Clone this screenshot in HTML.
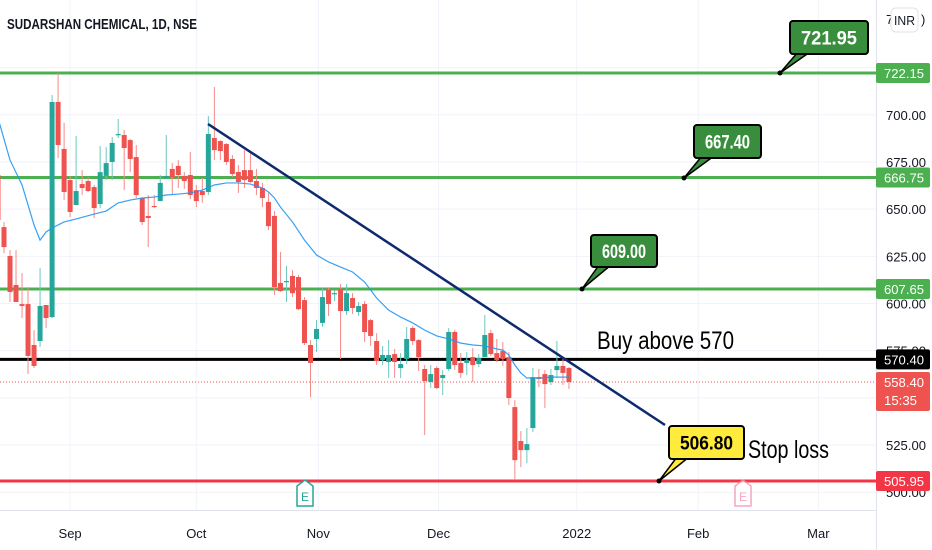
<!DOCTYPE html>
<html><head><meta charset="utf-8"><style>
html,body{margin:0;padding:0;background:#fff;}
svg{display:block;font-family:"Liberation Sans",sans-serif;}
</style></head><body>
<svg id="chart" width="932" height="550" viewBox="0 0 932 550" xmlns="http://www.w3.org/2000/svg">
<rect width="932" height="550" fill="#fff"/>
<g id="grid"></g>
<g id="hlines"></g>
<g id="candles"></g>
<g id="ma"></g>
<g id="drawings"></g>
<g id="axis"></g>
</svg>
<script>
const opens=[668.1,640.5,625.2,609.8,599.7,599.7,578.0,580.1,599.2,592.8,706.8,681.9,665.4,652.2,663.3,664.9,661.7,652.7,667.6,675.0,689.3,689.3,686.6,677.6,655.9,646.4,651.7,654.3,666.5,671.3,672.9,667.6,668.1,660.1,659.6,659.1,687.7,686.1,684.5,676.6,669.7,670.7,670.7,664.9,661.2,653.8,646.4,610.9,611.4,614.6,614.0,601.8,578.0,581.2,589.7,607.1,605.0,607.7,596.0,602.9,595.5,599.7,591.2,580.1,570.0,569.0,573.2,565.8,570.6,587.0,580.6,565.3,558.4,565.8,560.5,565.3,584.9,568.5,568.5,571.6,567.9,571.6,584.3,573.7,574.8,571.6,545.1,527.1,522.3,534.0,561.0,562.6,558.4,564.7,566.9,565.8];
const highs=[681.3,643.2,628.3,628.3,616.1,608.7,585.9,618.8,599.2,710.5,722.1,695.7,667.6,688.8,670.7,667.0,662.8,683.5,682.9,688.2,697.8,692.0,687.2,684.0,655.9,657.5,657.5,668.1,689.3,674.4,676.0,669.7,680.3,662.8,666.5,699.4,714.7,686.6,685.1,678.7,673.4,681.3,679.7,671.3,663.9,658.6,649.0,627.3,619.9,617.7,615.1,603.4,580.6,591.2,608.2,608.2,607.1,610.3,610.3,605.5,600.8,601.3,591.8,584.3,577.5,580.6,575.9,573.8,587.5,588.1,581.2,567.4,567.4,566.9,564.7,587.0,586.0,573.8,574.3,576.4,573.2,593.9,586.0,581.2,579.6,574.3,548.8,532.4,534.0,565.8,565.3,564.7,565.3,580.1,571.6,566.4];
const lows=[631.0,626.7,600.8,600.8,592.3,562.6,565.8,577.0,587.0,592.3,677.1,654.8,645.8,652.2,657.5,659.1,645.3,650.6,665.4,665.4,687.7,660.1,669.6,655.9,641.6,629.9,650.6,654.3,666.5,657.5,661.2,660.7,655.4,651.1,653.3,657.5,676.0,676.0,673.4,667.0,658.6,661.2,663.9,657.5,651.1,638.9,604.5,606.1,600.8,603.4,596.5,578.0,550.4,574.3,587.5,593.4,601.3,570.6,593.9,594.4,593.4,579.6,577.5,567.4,567.4,560.5,560.5,560.5,567.9,578.0,564.2,530.3,555.2,554.7,551.5,564.2,564.7,560.5,562.1,558.4,566.3,571.6,572.2,568.9,566.9,546.2,506.4,513.3,515.4,531.9,555.7,544.6,556.8,561.0,556.8,554.7];
const closes=[644.2,629.9,606.1,600.8,598.7,572.2,566.9,598.7,592.3,706.8,684.0,659.1,648.5,659.6,661.2,659.6,650.6,669.6,674.4,685.1,689.8,682.4,676.6,657.5,643.2,645.3,651.1,663.9,667.6,667.0,668.1,664.9,657.5,654.3,657.5,689.8,681.3,680.8,675.0,668.6,664.4,665.4,664.4,661.2,655.9,641.0,608.7,606.6,611.9,605.5,597.0,579.0,568.5,586.5,603.4,599.7,605.5,596.0,605.5,597.6,598.7,584.9,582.8,569.5,572.7,572.7,569.0,567.9,581.2,580.1,571.6,558.9,562.6,555.2,562.1,584.9,567.4,563.2,570.0,567.4,571.1,583.3,573.2,570.0,570.6,549.9,517.0,522.3,525.5,561.0,560.0,557.3,562.1,566.9,563.2,558.4];
const maIdx=[0,2,4,6,7,8,9,11,13,16,18,20,22,24,26,28,30,32,34,36,38,40,42,44,45,46,47,49,51,53,55,57,59,61,63,65,67,69,71,73,75,77,79,81,83,84,85,86,87,88,90,92,95];
const maVal=[698.3,676.0,662.8,641.6,633.6,637.9,640.0,643.2,644.8,647.4,649.0,653.3,654.8,655.9,656.4,657.5,658.0,658.6,660.1,662.8,663.9,663.9,663.3,661.2,659.1,655.9,651.1,643.2,633.6,625.7,622.0,619.3,616.7,611.4,602.9,596.5,592.8,589.7,585.9,582.8,581.2,579.0,578.0,577.5,575.9,575.3,572.7,567.4,563.2,560.5,560.5,561.0,561.0];
const levelPrices=[722.15,666.75,607.65,570.40,505.95];
const levelColors=['#4caf50','#4caf50','#4caf50','#000000','#f23645'];
const tickPrices=[700,675,650,625,600,525];
const monthLabels=['Sep','Oct','Nov','Dec','2022','Feb','Mar'];
const monthIdx=[12,33,53.3,73.3,96.3,116.5,136.5];
const lastPrice=558.40;

const NS='http://www.w3.org/2000/svg';
const Y=p=>73+(722.15-p)*1.887;
const X=i=>-2.01+6.01*i;
function mk(tag,attrs,parent,text){const e=document.createElementNS(NS,tag);for(const k in attrs)e.setAttribute(k,attrs[k]);if(text!==undefined)e.textContent=text;parent.appendChild(e);return e;}

const grid=document.getElementById('grid');
tickPrices.concat([575,550,500,725]).forEach(p=>{const l=mk('line',{x1:0,x2:876,y1:Y(p),y2:Y(p),stroke:'#f0f3fa','stroke-width':1},grid);

});
monthIdx.forEach(i=>{const l=mk('line',{x1:X(i),x2:X(i),y1:0,y2:510,stroke:'#f0f3fa','stroke-width':1},grid);

});

const hl=document.getElementById('hlines');
const dl=mk('line',{x1:0,x2:876,y1:Y(lastPrice),y2:Y(lastPrice),stroke:'#ef5350','stroke-width':1,'stroke-dasharray':'1 2'},hl);


levelPrices.forEach((p,k)=>{const l=mk('line',{x1:0,x2:876,y1:Y(p),y2:Y(p),stroke:levelColors[k],'stroke-width':3},hl);

});

const cg=document.getElementById('candles');
for(let i=0;i<opens.length;i++){
  const up=closes[i]>=opens[i];
  const g=mk('g',{},cg);
  
  
  const x=X(i);
  mk('line',{x1:x,x2:x,y1:Y(highs[i]),y2:Y(lows[i]),stroke:up?'#6cc7bd':'#f58a88','stroke-width':1},g);
  const t=Y(Math.max(opens[i],closes[i])),b=Y(Math.min(opens[i],closes[i]));
  mk('rect',{x:x-2.5,y:t,width:5,height:Math.max(1.2,b-t),fill:up?'#26a69a':'#ef5350'},g);
}

const ma=document.getElementById('ma');
const mp=mk('polyline',{points:maIdx.map((i,k)=>X(i)+','+Y(maVal[k])).join(' '),fill:'none',stroke:'#2196f3','stroke-width':1.2,'stroke-opacity':0.9},ma);



const dr=document.getElementById('drawings');
const tl=mk('line',{x1:208,y1:124,x2:665,y2:425,stroke:'#0d2a6e','stroke-width':2.5},dr);


function callout(name,bx,by,bw,bh,dx,dy,fill,tc,txt){
  const g=mk('g',{},dr);
  
  
  mk('path',{d:`M${bx+8},${by+bh-2} L${dx},${dy} L${bx+20},${by+bh-2} Z`,fill:fill,stroke:'#000','stroke-width':1.5,'stroke-linejoin':'round'},g);
  mk('rect',{x:bx,y:by,width:bw,height:bh,rx:3,fill:fill,stroke:'#000','stroke-width':2},g);
  mk('circle',{cx:dx,cy:dy,r:2.5,fill:'#000'},g);
  mk('text',{x:bx+bw/2,y:by+bh/2+7,'text-anchor':'middle','font-size':19,'font-weight':'bold',fill:tc,textLength:bw-22,lengthAdjust:'spacingAndGlyphs'},g,txt);
}
callout('callout-721-95',790,21,78,33,780,73,'#388e3c','#fff','721.95');
callout('callout-667-40',694,125,67,33,684,178,'#388e3c','#fff','667.40');
callout('callout-609-00',591,235,66,32,582,289,'#388e3c','#fff','609.00');
callout('callout-506-80',669,426,75,33,659,481,'#ffeb3b','#000','506.80');
const t1=mk('text',{x:597,y:349,'font-size':25,fill:'#000',textLength:137,lengthAdjust:'spacingAndGlyphs'},dr,'Buy above 570');


const t2=mk('text',{x:748,y:458,'font-size':25,fill:'#000',textLength:81,lengthAdjust:'spacingAndGlyphs'},dr,'Stop loss');


[[297,'#26a69a',1],[735,'#f48fb1',0.8]].forEach(([ex,c,o])=>{
  const g=mk('g',{opacity:o},dr);
  
  
  mk('path',{d:`M${ex},${486} L${ex+8},${480} L${ex+16},${486} L${ex+16},${506} L${ex},${506} Z`,fill:'#fff',stroke:c,'stroke-width':1.5},g);
  mk('text',{x:ex+8,y:501,'text-anchor':'middle','font-size':12,fill:c},g,'E');
});

const ax=document.getElementById('axis');
mk('line',{x1:876.5,x2:876.5,y1:0,y2:550,stroke:'#e0e3eb','stroke-width':1},ax);
mk('line',{x1:0,x2:876,y1:510.5,y2:510.5,stroke:'#e0e3eb','stroke-width':1},ax);
const tt=mk('text',{x:7,y:29,'font-size':15,'font-weight':'bold',fill:'#131722',textLength:190,lengthAdjust:'spacingAndGlyphs'},ax,'SUDARSHAN CHEMICAL, 1D, NSE');


tickPrices.forEach(p=>{const t=mk('text',{x:886,y:Y(p)+5,'font-size':13,fill:'#131722',textLength:40,lengthAdjust:'spacingAndGlyphs'},ax,p.toFixed(2));

});
[575,500].forEach(p=>{mk('text',{x:886,y:Y(p)+5,'font-size':13,fill:'#131722',textLength:40,lengthAdjust:'spacingAndGlyphs'},ax,p.toFixed(2));});
mk('text',{x:886,y:24,'font-size':13,fill:'#131722'},ax,'7');
const inr=mk('g',{},ax);


mk('rect',{x:891,y:8,width:27,height:24,rx:5,fill:'#fff',stroke:'#e0e3eb'},inr);
mk('text',{x:904.5,y:25,'text-anchor':'middle','font-size':13,fill:'#131722',textLength:21,lengthAdjust:'spacingAndGlyphs'},inr,'INR');
mk('text',{x:921,y:24,'font-size':13,fill:'#131722'},ax,')');
levelPrices.forEach((p,k)=>{
  const g=mk('g',{},ax);
  
  
  mk('rect',{x:876,y:Y(p)-10,width:54,height:20,rx:2,fill:levelColors[k]},g);
  mk('text',{x:884,y:Y(p)+5,'font-size':13,fill:'#fff',textLength:40,lengthAdjust:'spacingAndGlyphs'},g,p.toFixed(2));
});
const lp=mk('g',{},ax);


mk('rect',{x:876,y:Y(lastPrice)-10,width:54,height:39,rx:2,fill:'#ef5350'},lp);
mk('text',{x:884,y:Y(lastPrice)+5,'font-size':13,fill:'#fff',textLength:40,lengthAdjust:'spacingAndGlyphs'},lp,lastPrice.toFixed(2));
mk('text',{x:884,y:Y(lastPrice)+23,'font-size':13,fill:'#fff',textLength:33,lengthAdjust:'spacingAndGlyphs'},lp,'15:35');
monthLabels.forEach((m,k)=>{const t=mk('text',{x:X(monthIdx[k]),y:538,'text-anchor':'middle','font-size':13,fill:'#131722'},ax,m);

});
</script>
</body></html>
